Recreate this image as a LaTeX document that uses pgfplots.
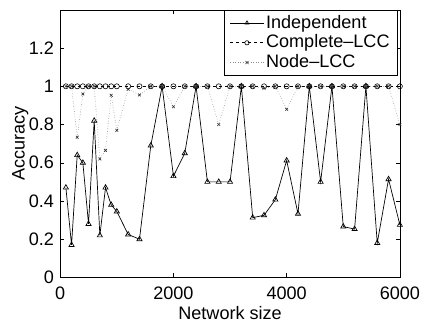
\documentclass[border=0pt]{standalone}
\usepackage{fontspec}
\setmainfont{Liberation Sans}
\usepackage{pgfplots}
\pgfplotsset{compat=1.18}
\pgfplotsset{longleg/.style={/pgfplots/legend image code/.code={\draw[mark repeat=2,mark phase=2,##1,mark size=2.2bp] plot coordinates {(0bp,0bp) (17bp,0bp) (34bp,0bp)};}}}
\begin{document}
\fontsize{18.3bp}{21bp}\selectfont
\begin{tikzpicture}
\begin{axis}[
  scale only axis,
  width=344bp, height=271bp,
  xmin=0, xmax=6000, ymin=0, ymax=1.4,
  xtick={0,2000,4000,6000},
  ytick={0,0.2,0.4,0.6,0.8,1,1.2},
  yticklabels={0,0.2,0.4,0.6,0.8,1,1.2},
  scaled ticks=false,
  /pgf/number format/1000 sep={},
  /pgf/number format/assume math mode=true,
  tick align=inside,
  major tick length=4bp,
  tick style={black, line width=0.5bp},
  axis line style={line width=0.7bp},
  xticklabel style={yshift=-3bp},
  yticklabel style={xshift=0bp},
  xlabel={Network size},
  ylabel={Accuracy},
  xlabel style={yshift=5bp},
  ylabel style={yshift=-12bp},
  every axis plot post/.append style={longleg},
  legend cell align=left,
  legend style={at={(0.994,1)}, anchor=north east, draw=black, line width=0.7bp,
    inner xsep=6bp, inner ysep=3bp, row sep=0bp, font=\fontsize{18.3bp}{21bp}\selectfont},
]
\addplot[black, line width=0.7bp, mark=triangle, mark size=3bp, mark options={solid, fill=white}] coordinates {
(100,0.47) (200,0.17) (300,0.64) (400,0.60) (500,0.28) (600,0.82) (700,0.22) (800,0.47) (900,0.38) (1000,0.345)
(1200,0.225) (1400,0.20) (1600,0.69) (1800,1.0) (2000,0.53) (2200,0.65) (2400,1.0) (2600,0.5) (2800,0.5) (3000,0.5)
(3200,1.0) (3400,0.313) (3600,0.325) (3800,0.407) (4000,0.612) (4200,0.333) (4400,1.0) (4600,0.50) (4800,1.0) (5000,0.266)
(5200,0.253) (5400,1.0) (5600,0.18) (5800,0.514) (6000,0.275)
};
\addlegendentry{Independent}
\addplot[black, line width=0.6bp, dashed, mark=o, mark size=2.6bp, mark options={solid, fill=white}] coordinates {
(100,1) (200,1) (300,1) (400,1) (500,1) (600,1) (700,1) (800,1) (900,1) (1000,1)
(1200,1) (1400,1) (1600,1) (1800,1) (2000,1) (2200,1) (2400,1) (2600,1) (2800,1) (3000,1)
(3200,1) (3400,1) (3600,1) (3800,1) (4000,1) (4200,1) (4400,1) (4600,1) (4800,1) (5000,1)
(5200,1) (5400,1) (5600,1) (5800,1) (6000,1)
};
\addlegendentry{Complete--LCC}
\addplot[black!45, line width=0.6bp, dotted, mark=x, mark size=2bp, mark options={solid, black!80}] coordinates {
(100,1) (200,1) (300,0.734) (400,0.96) (500,1) (600,1) (700,0.62) (800,0.665) (900,0.953) (1000,0.77)
(1200,0.985) (1400,0.955) (1600,1) (1800,1) (2000,0.893) (2200,1) (2400,1) (2600,1) (2800,0.80) (3000,1)
(3200,1) (3400,1) (3600,0.99) (3800,1) (4000,0.88) (4200,1) (4400,1) (4600,1) (4800,1) (5000,1)
(5200,1) (5400,1) (5600,1) (5800,1) (6000,0.80)
};
\addlegendentry{Node--LCC}
\end{axis}
\path[use as bounding box] ([shift={(-61bp,-40bp)}]current axis.south west) rectangle ([shift={(21bp,10bp)}]current axis.north east);
\end{tikzpicture}
\end{document}
